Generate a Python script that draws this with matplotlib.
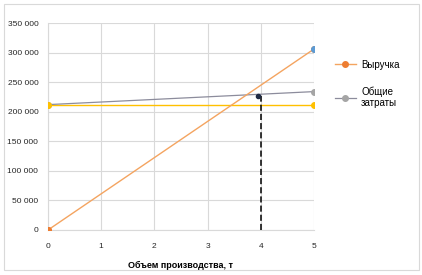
import matplotlib
matplotlib.use("Agg")
import matplotlib.pyplot as plt
from matplotlib.patches import Rectangle

x_vals = [0, 5]
revenue = [0, 306000]
total_costs = [212000, 234000]
fixed_costs = [212000, 212000]
be_x = 3.95
be_y = 227000
dash_x = 4
dash_top = 227000
y_ticks = [0, 50000, 100000, 150000, 200000, 250000, 300000, 350000]
y_labels = ["0", "50 000", "100 000", "150 000", "200 000", "250 000", "300 000", "350 000"]
x_ticks = [0, 1, 2, 3, 4, 5]

plt.rcParams['font.family'] = ['Liberation Sans', 'DejaVu Sans']
fig = plt.figure(figsize=(4.22, 2.75), dpi=100)
W, H = 422, 275
ax = fig.add_axes([48 / W, 1 - 230 / H, (314 - 48) / W, (230 - 23) / H])

grid_c = "#d9d9d9"
orange = "#ed7d31"
gray = "#a5a5a5"
yellow = "#ffc000"
blue = "#5b9bd5"
ms = 4

ax.plot(x_vals, fixed_costs, color=yellow, lw=1.0, zorder=3)
ax.plot(x_vals, total_costs, color="#8c8c9c", lw=0.9, zorder=3, label="Общие\nзатраты",
        marker="o", ms=ms, mfc=gray, mec=gray)
ax.plot(x_vals, revenue, color="#f4a460", lw=1.0, zorder=4, label="Выручка",
        marker="o", ms=ms, mfc=orange, mec=orange)
ax.plot([x_vals[1]], [revenue[1]], marker="o", ms=ms, color=blue, zorder=5, ls="none")
ax.plot(x_vals, fixed_costs, marker="o", ms=ms, color=yellow, zorder=5, ls="none")
ax.plot([x_vals[0]], [revenue[0]], marker="o", ms=ms, color=orange, zorder=6, ls="none")
ax.plot([be_x], [be_y], marker="o", ms=3, color="#1f2a44", zorder=6, ls="none")
ax.plot([dash_x, dash_x], [0, dash_top], color="black", lw=1.1, ls=(0, (4, 2)), zorder=5)

ax.set_xlim(0, 5)
ax.set_ylim(0, 350000)
ax.set_xticks(x_ticks)
ax.set_xticklabels([str(t) for t in x_ticks], fontsize=6)
ax.set_yticks(y_ticks)
ax.set_yticklabels(y_labels, fontsize=6)
ax.tick_params(length=0, pad=9, colors="#262626")
ax.tick_params(axis="y", pad=7)
ax.grid(True, color=grid_c, lw=0.8)
ax.set_axisbelow(True)
for s in ["top", "right"]:
    ax.spines[s].set_visible(False)
ax.spines["left"].set_color(grid_c)
ax.spines["bottom"].set_color(grid_c)
ax.set_xlabel("Объем производства, т", fontsize=6.5, fontweight="bold", labelpad=8)

h, l = ax.get_legend_handles_labels()
leg = fig.legend([h[1], h[0]], [l[1], l[0]], loc="upper left", bbox_to_anchor=(326 / W, 1 - 51 / H),
                 frameon=False, fontsize=7, handlelength=2.2, labelspacing=1.7, handletextpad=0.5)

fig.patches.append(Rectangle((4 / W, 5 / H), 415 / W, 266 / H, transform=fig.transFigure,
                             fill=False, ec="#d9d9d9", lw=0.8))
fig.savefig("out.png", dpi=100)
